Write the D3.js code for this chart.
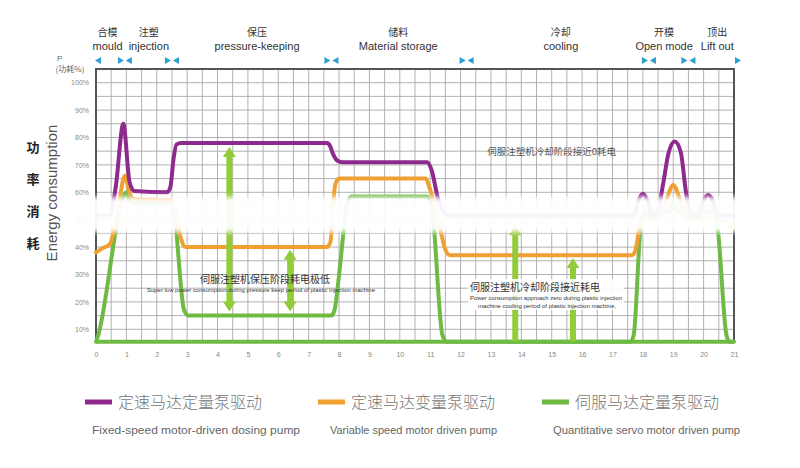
<!DOCTYPE html>
<html>
<head>
<meta charset="utf-8">
<script src="https://cdn.jsdelivr.net/npm/d3@7"></script>
<style>
  body { margin: 0; background: #fff; }
  svg { display: block; font-family: "Liberation Sans", Arial, sans-serif; }
</style>
</head>
<body>
<div class="chart"></div>
<script>
// phases of the moulding cycle
const phaseZh = ["合模", "注塑", "保压", "储料", "冷却", "开模", "顶出"]
const phaseEn = ["mould", "injection", "pressure-keeping", "Material storage", "cooling", "Open mode", "Lift out"]
const phaseAt = [0.38, 1.74, 5.3, 9.95, 15.3, 18.7, 20.45]
const phaseBounds = [0, 0.95, 2.5, 7.75, 12.2, 18.2, 19.5, 21]

const xTicks = d3.range(0, 22)
const yTicks = [10, 20, 30, 40, 50, 60, 70, 80, 90, 100]

// [cycle time, power %]
const fixedSpeed = [
  [0, 51.5], [0.45, 51.5], [0.65, 62], [0.9, 85], [1.1, 64], [1.25, 60.5], [2.35, 60], [2.45, 62],
  [2.55, 72], [2.65, 77.5], [2.8, 78], [7.6, 78], [7.7, 77], [7.8, 74], [7.95, 71.5], [8.1, 71],
  [10.9, 71], [11.05, 68], [11.25, 58], [11.45, 52.5], [11.65, 51.5], [17.7, 51.5], [17.85, 57],
  [18.0, 59.5], [18.15, 57], [18.3, 51.5], [18.45, 51.5], [18.65, 62], [18.85, 74.5], [19.05, 78.5],
  [19.25, 74.5], [19.42, 60], [19.6, 51.5], [19.85, 51.5], [20.0, 57], [20.15, 59], [20.3, 57],
  [20.45, 51.5], [21, 51.5]
]
const variableSpeed = [
  [0, 38], [0.2, 39.5], [0.45, 41], [0.7, 52], [0.95, 66], [1.1, 60], [1.25, 57.5], [2.45, 57],
  [2.6, 54], [2.8, 43], [2.95, 40], [7.6, 40], [7.72, 42], [7.8, 55], [7.88, 63], [8.0, 65],
  [10.85, 65], [11.0, 61], [11.3, 48], [11.5, 39], [11.65, 37], [17.65, 37], [17.78, 40],
  [17.9, 48], [18.05, 51], [18.6, 51], [18.8, 58], [19.0, 62.7], [19.2, 58], [19.4, 51],
  [20.5, 50], [21, 47]
]
const servo = [
  [0, 5.5], [0.05, 7], [0.95, 59.5], [1.0, 60], [1.1, 57], [1.25, 56], [2.45, 56], [2.55, 54],
  [2.9, 17], [3.05, 15], [7.75, 15], [7.85, 17], [8.05, 35], [8.25, 55], [8.4, 58.5], [10.9, 58.5],
  [11.05, 55], [11.4, 8], [11.55, 5.5], [17.6, 5.5], [17.7, 8], [17.95, 50], [18.1, 53], [18.85, 53],
  [19.0, 56.5], [19.15, 53], [20.3, 53], [20.45, 48], [20.75, 8], [20.85, 5.5], [21, 5.5]
]

// double arrows: x, top %, bottom %, head at top, head at bottom
const arrows = [
  [4.39, 76.5, 16.5, true, true],
  [6.39, 39, 16.5, true, true],
  [13.8, 48, 5.5, true, false],
  [15.7, 36, 5.5, true, false]
]

const seriesZh = ["定速马达定量泵驱动", "定速马达变量泵驱动", "伺服马达定量泵驱动"]
const seriesEn = ["Fixed-speed motor-driven dosing pump", "Variable speed motor driven pump", "Quantitative servo motor driven pump"]
const seriesColor = ["#8e2a8e", "#f0a032", "#6fba43"]

const width = 800
const height = 468

const svg = d3.select(".chart").append("svg")
  .attr("width", width)
  .attr("height", height)

const x = d3.scaleLinear().domain([0, 21]).range([96, 734])
const y = d3.scaleLinear().domain([5, 105]).range([343, 69])

// grid
const grid = svg.append("g")
grid.selectAll("line.v")
  .data(d3.range(0.5, 21, 0.5))
  .join("line")
    .attr("x1", d => x(d)).attr("x2", d => x(d))
    .attr("y1", y(105)).attr("y2", y(5))
    .attr("stroke", "#a8a8a8").attr("stroke-width", 0.9)
grid.selectAll("line.h")
  .data(d3.range(10, 105, 5))
  .join("line")
    .attr("x1", x(0)).attr("x2", x(21))
    .attr("y1", d => y(d)).attr("y2", d => y(d))
    .attr("stroke", "#a8a8a8").attr("stroke-width", 0.9)

// frame
svg.append("path")
  .attr("d", `M${x(0)},${y(5)}V${y(105)}H${x(21)}V${y(5)}`)
  .attr("fill", "none").attr("stroke", "#555").attr("stroke-width", 2)

// axes
const yAxis = svg.append("g")
  .attr("transform", `translate(${x(0) - 4},0)`)
  .call(d3.axisLeft(y).tickValues(yTicks).tickSize(0).tickFormat(d => d + "%"))
yAxis.select(".domain").remove()
yAxis.selectAll("text").attr("fill", "#888").attr("font-size", 7)

const xAxis = svg.append("g")
  .attr("transform", `translate(0,${y(5) + 6})`)
  .call(d3.axisBottom(x).tickValues(xTicks).tickSize(0).tickFormat(d3.format("d")))
xAxis.select(".domain").remove()
xAxis.selectAll("text").attr("fill", "#888").attr("font-size", 7)

// series
const line = d3.line()
  .x(d => x(d[0]))
  .y(d => y(d[1]))
  .curve(d3.curveMonotoneX)

// green baseline under the chart
svg.append("line")
  .attr("x1", x(0)).attr("x2", x(21))
  .attr("y1", y(5.5)).attr("y2", y(5.5))
  .attr("stroke", seriesColor[2]).attr("stroke-width", 4)

const seriesData = [servo, variableSpeed, fixedSpeed]
const seriesIdx = [2, 1, 0]
svg.append("g").selectAll("path")
  .data(seriesData)
  .join("path")
    .attr("d", line)
    .attr("fill", "none")
    .attr("stroke", (d, i) => seriesColor[seriesIdx[i]])
    .attr("stroke-width", 4)
    .attr("stroke-linejoin", "round")
    .attr("stroke-linecap", "round")

// arrows
const arrowColor = "#93cc3a"
const ag = svg.append("g")
arrows.forEach(a => {
  const ax = x(a[0])
  const top = y(a[1]), bot = y(a[2])
  const t0 = a[3] ? top + 9 : top
  const b0 = a[4] ? bot - 9 : bot
  ag.append("line")
    .attr("x1", ax).attr("x2", ax).attr("y1", t0).attr("y2", b0)
    .attr("stroke", arrowColor).attr("stroke-width", 6)
  if (a[3]) ag.append("path")
    .attr("d", `M${ax},${top}L${ax + 6.5},${top + 10}L${ax - 6.5},${top + 10}Z`)
    .attr("fill", arrowColor)
  if (a[4]) ag.append("path")
    .attr("d", `M${ax},${bot}L${ax + 6.5},${bot - 10}L${ax - 6.5},${bot - 10}Z`)
    .attr("fill", arrowColor)
})

// washed-out band across the middle, as in the source image
const defs = svg.append("defs")
defs.append("filter").attr("id", "soft")
  .attr("x", "-5%").attr("y", "-50%").attr("width", "110%").attr("height", "200%")
  .append("feGaussianBlur").attr("stdDeviation", 2.5)
svg.append("rect")
  .attr("x", 22).attr("y", y(58.3)).attr("width", 756).attr("height", y(45.5) - y(58.3))
  .attr("fill", "#fff").attr("opacity", 0.95).attr("filter", "url(#soft)")

// annotations
svg.append("text")
  .attr("x", x(15)).attr("y", 155)
  .attr("text-anchor", "middle").attr("font-size", 9.5).attr("fill", "#555")
  .attr("font-family", "Noto Sans CJK SC")
  .text("伺服注塑机冷却阶段接近0耗电")

svg.append("text")
  .attr("x", 265).attr("y", 283)
  .attr("text-anchor", "middle").attr("font-size", 10).attr("fill", "#333")
  .attr("font-family", "Noto Sans CJK SC")
  .text("伺服注塑机保压阶段耗电极低")
svg.append("text")
  .attr("x", 147).attr("y", 292)
  .attr("font-size", 6).attr("fill", "#333")
  .attr("textLength", 228).attr("lengthAdjust", "spacingAndGlyphs")
  .text("Super low power consumption during pressure keep period of plastic injection machine")

svg.append("rect")
  .attr("x", 468).attr("y", 279).attr("width", 156).attr("height", 31)
  .attr("fill", "#fff").attr("opacity", 0.9)
svg.append("text")
  .attr("x", 535).attr("y", 291)
  .attr("text-anchor", "middle").attr("font-size", 10).attr("fill", "#333")
  .attr("font-family", "Noto Sans CJK SC")
  .text("伺服注塑机冷却阶段接近耗电")
svg.append("text")
  .attr("x", 470).attr("y", 300)
  .attr("font-size", 6).attr("fill", "#333")
  .attr("textLength", 152).attr("lengthAdjust", "spacingAndGlyphs")
  .text("Power consumption approach zero during plastic injection")
svg.append("text")
  .attr("x", 478).attr("y", 308)
  .attr("font-size", 6).attr("fill", "#333")
  .attr("textLength", 138).attr("lengthAdjust", "spacingAndGlyphs")
  .text("machine cooling period of plastic injection machine,")

// phase header
svg.append("g").selectAll("text")
  .data(phaseZh)
  .join("text")
    .attr("x", (d, i) => x(phaseAt[i]))
    .attr("y", 36)
    .attr("text-anchor", "middle").attr("font-size", 10).attr("fill", "#333")
    .attr("font-family", "Noto Sans CJK SC")
    .text(d => d)
svg.append("g").selectAll("text")
  .data(phaseEn)
  .join("text")
    .attr("x", (d, i) => x(phaseAt[i]))
    .attr("y", 50)
    .attr("text-anchor", "middle").attr("font-size", 11).attr("fill", "#333")
    .text(d => d)

const markColor = "#2a9fd0"
const inner = phaseBounds.slice(1, -1)
const mk = svg.append("g").attr("fill", markColor)
inner.forEach(b => {
  const bx = x(b)
  mk.append("path").attr("d", `M${bx - 7},57L${bx - 1},60.5L${bx - 7},64Z`)
  mk.append("path").attr("d", `M${bx + 7},57L${bx + 1},60.5L${bx + 7},64Z`)
})
mk.append("path").attr("d", `M${x(0) + 5},57L${x(0) - 1},60.5L${x(0) + 5},64Z`)
mk.append("path").attr("d", `M${x(21) + 1},57L${x(21) + 7},60.5L${x(21) + 1},64Z`)

// y axis titles
svg.append("text").attr("x", 57).attr("y", 61)
  .attr("font-size", 8).attr("fill", "#666").text("P")
svg.append("text").attr("x", 70).attr("y", 72)
  .attr("text-anchor", "middle").attr("font-size", 8).attr("fill", "#666")
  .attr("font-family", "Noto Sans CJK SC")
  .text("(功耗%)")

const sideZh = ["功", "率", "消", "耗"]
svg.append("g").selectAll("text")
  .data(sideZh)
  .join("text")
    .attr("x", 33).attr("y", (d, i) => 152 + i * 32)
    .attr("text-anchor", "middle").attr("font-size", 13).attr("font-weight", "bold")
    .attr("fill", "#222").attr("font-family", "Noto Sans CJK SC")
    .text(d => d)
svg.append("text")
  .attr("transform", "translate(57,193) rotate(-90)")
  .attr("text-anchor", "middle").attr("font-size", 15).attr("fill", "#555")
  .text("Energy consumption")

// legend
const legX = [85, 318, 542]
const legEnX = [92, 330, 553]
const legEnW = [208, 167, 187]
const leg = svg.append("g")
seriesZh.forEach((d, i) => {
  leg.append("line")
    .attr("x1", legX[i]).attr("x2", legX[i] + 27)
    .attr("y1", 402).attr("y2", 402)
    .attr("stroke", seriesColor[i]).attr("stroke-width", 5)
  leg.append("text")
    .attr("x", legX[i] + 33).attr("y", 408)
    .attr("font-size", 16).attr("fill", "#777")
    .attr("font-family", "Noto Sans CJK SC").attr("font-weight", 300)
    .text(d)
  leg.append("text")
    .attr("x", legEnX[i]).attr("y", 434)
    .attr("font-size", 10).attr("fill", "#666")
    .attr("textLength", legEnW[i]).attr("lengthAdjust", "spacingAndGlyphs")
    .text(seriesEn[i])
})
</script>
</body>
</html>
